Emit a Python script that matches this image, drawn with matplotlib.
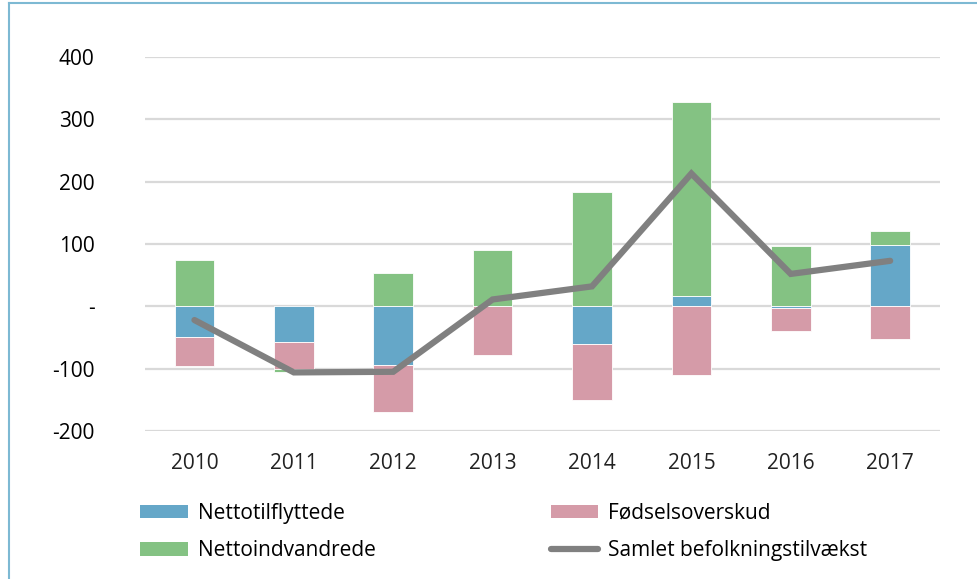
import numpy as np
import matplotlib.pyplot as plt
from matplotlib.patches import Patch
from matplotlib.lines import Line2D

plt.rcParams['font.family'] = ['Open Sans', 'DejaVu Sans']

# ======================== DATA ========================
years = ['2010', '2011', '2012', '2013', '2014', '2015', '2016', '2017']
nettotilflyttede = [-50, -57, -94, 0, -60, 17, -3, 98]
foedselsoverskud = [-45, -44, -76, -78, -90, -110, -37, -52]
nettoindvandrede = [74, -5, 54, 91, 183, 310, 97, 23]
samlet = [-22, -106, -105, 11, 32, 213, 52, 73]

yticks = [-200, -100, 0, 100, 200, 300, 400]
yticklabels = ['-200', '-100', '-', '100', '200', '300', '400']

C_BLUE = '#65A7C8'
C_PINK = '#D59BA8'
C_GREEN = '#84C283'
C_LINE = '#808080'

# ======================== PLOT ========================
fig = plt.figure(figsize=(9.78, 5.79), dpi=100)
ax = fig.add_axes([0.148, 0.2556, 0.813, 0.646])

x = np.arange(len(years))
pos_base = np.zeros(len(years))
neg_base = np.zeros(len(years))
for vals, col in [(nettotilflyttede, C_BLUE), (foedselsoverskud, C_PINK), (nettoindvandrede, C_GREEN)]:
    vals = np.array(vals, dtype=float)
    base = np.where(vals >= 0, pos_base, neg_base)
    ax.bar(x, vals, width=0.4, bottom=base, color=col, edgecolor='white', linewidth=0.6, zorder=2)
    pos_base += np.where(vals >= 0, vals, 0)
    neg_base += np.where(vals < 0, vals, 0)

ax.plot(x, samlet, color=C_LINE, linewidth=4.5, solid_capstyle='round', solid_joinstyle='miter', zorder=3)

ax.set_xlim(-0.5, len(years) - 0.5)
ax.set_ylim(-200, 400)
ax.set_yticks(yticks)
ax.set_yticklabels(yticklabels)
ax.set_xticks(x)
ax.set_xticklabels(years)
ax.tick_params(axis='y', length=0, pad=36, labelsize=15, colors='#000000')
ax.tick_params(axis='x', length=0, pad=16, labelsize=15, colors='#222222')
ax.grid(axis='y', color='#D9D9D9', linewidth=1.6, zorder=0)
ax.set_axisbelow(True)
for s in ax.spines.values():
    s.set_visible(False)

handles = [
    Patch(facecolor=C_BLUE, label='Nettotilflyttede'),
    Patch(facecolor=C_GREEN, label='Nettoindvandrede'),
    Patch(facecolor=C_PINK, label='Fødselsoverskud'),
    Line2D([0], [0], color=C_LINE, linewidth=4.5, solid_capstyle='round', label='Samlet befolkningstilvækst'),
]
fig.legend(handles=handles, loc='upper left', bbox_to_anchor=(0.135, 0.146), ncol=2,
           frameon=False, fontsize=15, handlelength=2.3, handleheight=0.65, handletextpad=0.45,
           columnspacing=8.4, labelspacing=0.8, borderaxespad=0)

# frame lines of the surrounding box
fig.add_artist(Line2D([0.009, 1.0], [0.994, 0.994], color='#7DB9D3', linewidth=1.5))
fig.add_artist(Line2D([0.009, 0.009], [0.0, 0.994], color='#7DB9D3', linewidth=1.5))

plt.savefig('out.png', dpi=100)
